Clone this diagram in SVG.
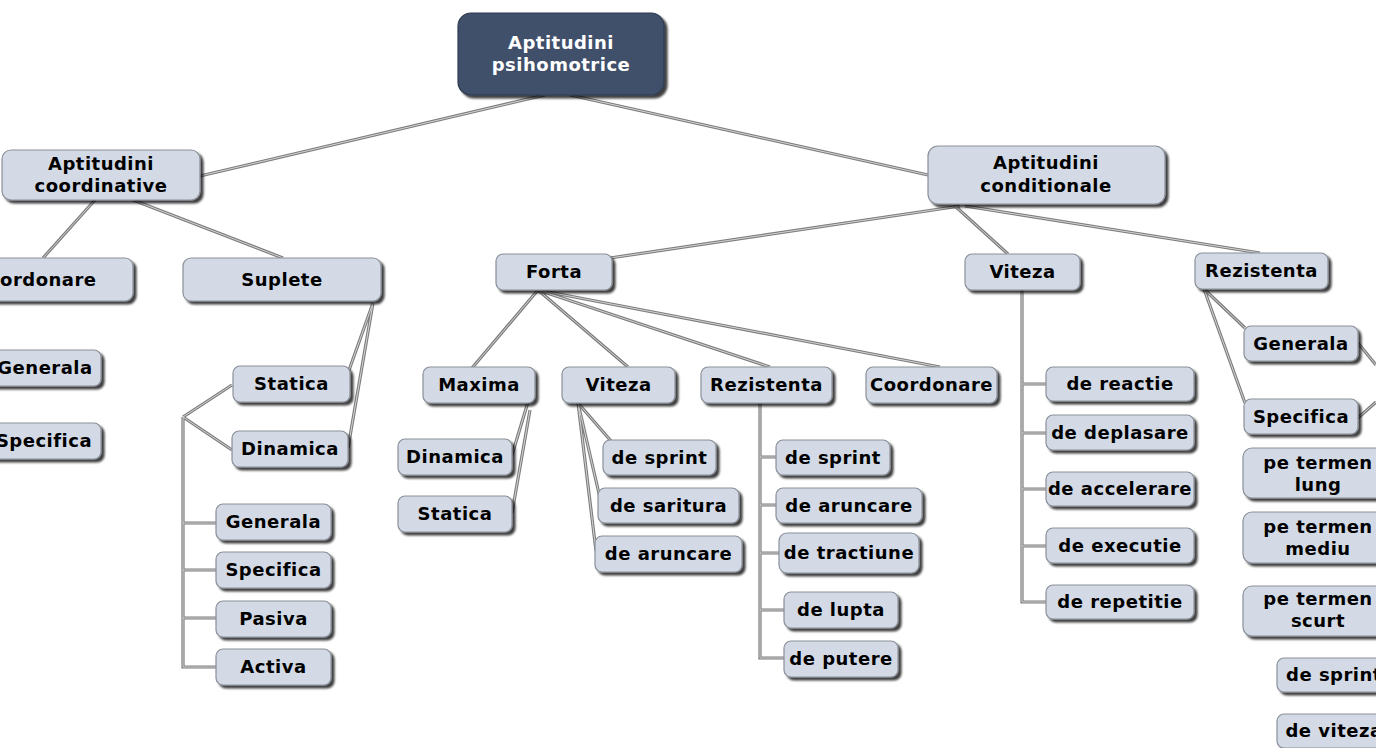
<svg xmlns="http://www.w3.org/2000/svg" width="1376" height="748" viewBox="0 0 1376 748">
<defs>
<filter id="sh" x="-10%" y="-20%" width="130%" height="150%">
<feDropShadow dx="3" dy="3" stdDeviation="1.3" flood-color="#000" flood-opacity="0.75"/>
</filter>
<style>
.n rect{fill:#d3dae5;stroke:#8a8f98;stroke-width:1.2;filter:url(#sh)}
.n text{font-family:"DejaVu Sans",Verdana,sans-serif;font-weight:bold;font-size:18px;letter-spacing:0.5px;fill:#000;text-anchor:middle}
.top rect{fill:#3f4f6b;stroke:#2d3a50}
.top text{fill:#fff}
.co{fill:none;stroke:#7d7d7d;stroke-width:3.2}
.ci{fill:none;stroke:#d4d4d4;stroke-width:1}
</style>
<path id="cp" d="M545,95 L200,176 M570,95 L928,175 M95,200 L43,258 M133,200 L283,258 M960,206 L610,258 M955,206 L1008,254 M965,206 L1260,253 M538,290 L472,368 M538,290 L628,367 M538,290 L770,367 M538,290 L940,367 M528,402 L512,455 M530,410 L512,513 M578,403 L611,441 M578,403 L600,498 M578,403 L596,551 M760,403 L760,658 L784,658 M760,457 L776,457 M760,505 L776,505 M760,553 L779,553 M760,610 L784,610 M1022,290 L1022,602 L1046,602 M1022,384 L1046,384 M1022,433 L1046,433 M1022,489 L1046,489 M1022,546 L1046,546 M1204,289 L1245,328 M1204,289 L1245,403 M1358,343 L1376,365 M1358,418 L1376,402 M373,303 L348,373 M373,303 L348,448 M183,417 L232,385 M183,417 L232,450 M183,417 L183,667 L216,667 M183,523 L216,523 M183,570 L216,570 M183,618 L216,618"/>
</defs>
<rect width="1376" height="748" fill="#fff"/>
<g id="connectors">
<use href="#cp" class="co"/>
<use href="#cp" class="ci"/>
</g>
<g id="n-root" class="n top"><rect x="458" y="13" width="206" height="82" rx="13"/><text x="561" y="49">Aptitudini</text><text x="561" y="71">psihomotrice</text></g>
<g id="n-coord" class="n"><rect x="2" y="150" width="198" height="50" rx="9"/><text x="101" y="170">Aptitudini</text><text x="101" y="192">coordinative</text></g>
<g id="n-cond" class="n"><rect x="928" y="146" width="237" height="58" rx="10"/><text x="1046" y="169">Aptitudini</text><text x="1046" y="192">conditionale</text></g>
<g id="n-coordonare-l" class="n"><rect x="-63" y="258" width="196" height="43" rx="8"/><text x="35" y="286">Coordonare</text></g>
<g id="n-suplete" class="n"><rect x="183" y="258" width="198" height="43" rx="8"/><text x="282" y="286">Suplete</text></g>
<g id="n-generala-l" class="n"><rect x="-17" y="350" width="118" height="36" rx="7"/><text x="45" y="374">Generala</text></g>
<g id="n-specifica-l" class="n"><rect x="-17" y="423" width="118" height="36" rx="7"/><text x="44" y="447">Specifica</text></g>
<g id="n-statica-s" class="n"><rect x="233" y="366" width="117" height="36" rx="7"/><text x="291.5" y="390">Statica</text></g>
<g id="n-dinamica-s" class="n"><rect x="232" y="431" width="116" height="36" rx="7"/><text x="290" y="455">Dinamica</text></g>
<g id="n-generala-s" class="n"><rect x="216" y="504" width="115" height="36" rx="7"/><text x="273.5" y="528">Generala</text></g>
<g id="n-specifica-s" class="n"><rect x="216" y="552" width="115" height="36" rx="7"/><text x="273.5" y="576">Specifica</text></g>
<g id="n-pasiva" class="n"><rect x="216" y="601" width="115" height="36" rx="7"/><text x="273.5" y="625">Pasiva</text></g>
<g id="n-activa" class="n"><rect x="216" y="649" width="115" height="36" rx="7"/><text x="273.5" y="673">Activa</text></g>
<g id="n-forta" class="n"><rect x="496" y="254" width="116" height="36" rx="7"/><text x="554" y="278">Forta</text></g>
<g id="n-viteza" class="n"><rect x="965" y="254" width="115" height="36" rx="7"/><text x="1022.5" y="278">Viteza</text></g>
<g id="n-rezistenta" class="n"><rect x="1195" y="253" width="133" height="36" rx="7"/><text x="1261.5" y="277">Rezistenta</text></g>
<g id="n-maxima" class="n"><rect x="423" y="367" width="112" height="36" rx="7"/><text x="479" y="391">Maxima</text></g>
<g id="n-viteza-f" class="n"><rect x="562" y="367" width="113" height="36" rx="7"/><text x="618.5" y="391">Viteza</text></g>
<g id="n-rezistenta-f" class="n"><rect x="701" y="367" width="131" height="36" rx="7"/><text x="766.5" y="391">Rezistenta</text></g>
<g id="n-coordonare-f" class="n"><rect x="866" y="367" width="131" height="36" rx="7"/><text x="931.5" y="391">Coordonare</text></g>
<g id="n-dinamica-m" class="n"><rect x="398" y="439" width="114" height="36" rx="7"/><text x="455" y="463">Dinamica</text></g>
<g id="n-statica-m" class="n"><rect x="398" y="496" width="114" height="36" rx="7"/><text x="455" y="520">Statica</text></g>
<g id="n-sprint-v" class="n"><rect x="603" y="440" width="113" height="35" rx="7"/><text x="659.5" y="463.5">de sprint</text></g>
<g id="n-saritura-v" class="n"><rect x="598" y="488" width="141" height="35" rx="7"/><text x="668.5" y="511.5">de saritura</text></g>
<g id="n-aruncare-v" class="n"><rect x="595" y="536" width="147" height="36" rx="7"/><text x="668.5" y="560">de aruncare</text></g>
<g id="n-sprint-r" class="n"><rect x="776" y="440" width="114" height="35" rx="7"/><text x="833" y="463.5">de sprint</text></g>
<g id="n-aruncare-r" class="n"><rect x="776" y="488" width="146" height="35" rx="7"/><text x="849" y="511.5">de aruncare</text></g>
<g id="n-tractiune" class="n"><rect x="779" y="533" width="140" height="40" rx="8"/><text x="849" y="559">de tractiune</text></g>
<g id="n-lupta" class="n"><rect x="784" y="592" width="114" height="36" rx="7"/><text x="841" y="616">de lupta</text></g>
<g id="n-putere" class="n"><rect x="784" y="641" width="114" height="36" rx="7"/><text x="841" y="665">de putere</text></g>
<g id="n-reactie" class="n"><rect x="1046" y="367" width="148" height="34" rx="7"/><text x="1120" y="390">de reactie</text></g>
<g id="n-deplasare" class="n"><rect x="1046" y="415" width="148" height="35" rx="7"/><text x="1120" y="438.5">de deplasare</text></g>
<g id="n-accelerare" class="n"><rect x="1046" y="472" width="148" height="34" rx="7"/><text x="1120" y="495">de accelerare</text></g>
<g id="n-executie" class="n"><rect x="1046" y="528" width="148" height="35" rx="7"/><text x="1120" y="551.5">de executie</text></g>
<g id="n-repetitie" class="n"><rect x="1046" y="585" width="148" height="34" rx="7"/><text x="1120" y="608">de repetitie</text></g>
<g id="n-generala-r" class="n"><rect x="1244" y="326" width="114" height="35" rx="7"/><text x="1301" y="349.5">Generala</text></g>
<g id="n-specifica-r" class="n"><rect x="1244" y="399" width="114" height="35" rx="7"/><text x="1301" y="422.5">Specifica</text></g>
<g id="n-lung" class="n"><rect x="1243" y="448" width="150" height="50" rx="9"/><text x="1318" y="469">pe termen</text><text x="1318" y="491">lung</text></g>
<g id="n-mediu" class="n"><rect x="1243" y="512" width="150" height="51" rx="9"/><text x="1318" y="533">pe termen</text><text x="1318" y="555">mediu</text></g>
<g id="n-scurt" class="n"><rect x="1243" y="586" width="150" height="50" rx="9"/><text x="1318" y="605">pe termen</text><text x="1318" y="627">scurt</text></g>
<g id="n-sprint-rr" class="n"><rect x="1277" y="658" width="120" height="34" rx="7"/><text x="1334" y="681">de sprint</text></g>
<g id="n-viteza-rr" class="n"><rect x="1277" y="714" width="120" height="34" rx="7"/><text x="1334" y="737">de viteza</text></g>
</svg>
